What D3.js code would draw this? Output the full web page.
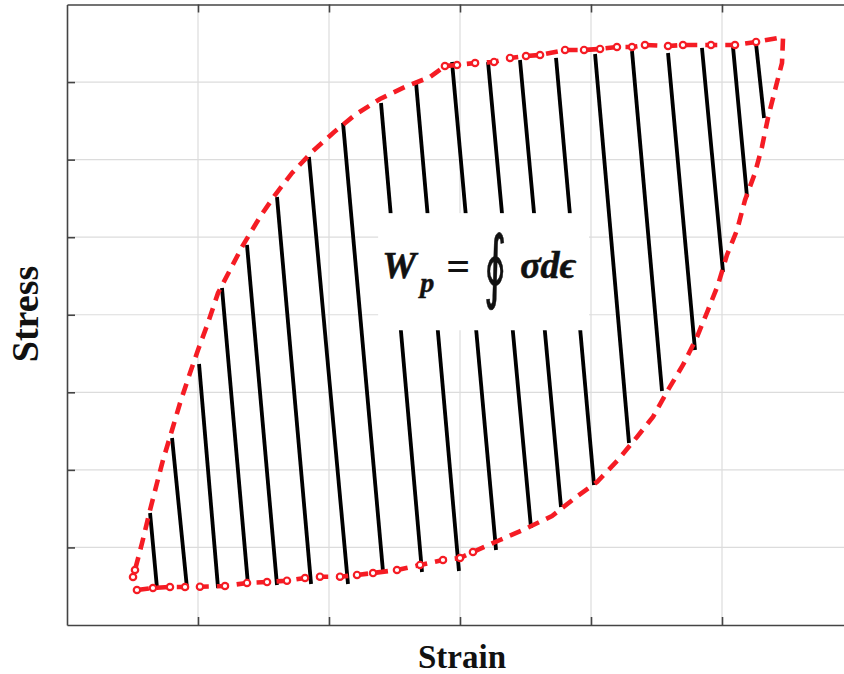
<!DOCTYPE html>
<html>
<head>
<meta charset="utf-8">
<script src="https://cdn.jsdelivr.net/npm/d3@7"></script>
<style>
  html, body { margin: 0; padding: 0; background: #fff; }
  svg { display: block; }
</style>
</head>
<body>
<div id="chart"></div>
<script>
// Hysteresis loop (stress vs. strain); the enclosed area is the dissipated work W_p.

// Loading branch: strain, stress (lower edge of the loop, then rising to the peak)
const loadStrain = [0.534, 0.656, 0.786, 0.901, 1.015, 1.206, 1.374, 1.527, 1.679, 1.817, 1.931, 2.084, 2.214, 2.336, 2.519, 2.695, 2.870, 3.000, 3.099, 3.305, 3.496, 3.702, 3.878, 4.046, 4.206, 4.351, 4.473, 4.588, 4.702, 4.809, 4.893, 4.969, 5.038, 5.115, 5.176, 5.252, 5.305, 5.351, 5.405, 5.458, 5.466];
const loadStress = [0.451, 0.477, 0.490, 0.490, 0.494, 0.503, 0.542, 0.554, 0.571, 0.606, 0.623, 0.623, 0.645, 0.670, 0.709, 0.774, 0.838, 0.864, 0.941, 1.096, 1.238, 1.405, 1.637, 1.844, 2.127, 2.424, 2.682, 3.030, 3.352, 3.713, 4.061, 4.384, 4.771, 5.093, 5.480, 5.828, 6.163, 6.537, 6.898, 7.246, 7.581];

// Unloading branch: from the peak back along the upper edge and down to the start
const unloadStrain = [5.260, 5.099, 4.916, 4.702, 4.588, 4.412, 4.313, 4.198, 4.069, 3.947, 3.802, 3.611, 3.504, 3.382, 3.260, 3.115, 2.977, 2.885, 2.771, 2.580, 2.389, 2.198, 2.031, 1.870, 1.718, 1.588, 1.473, 1.344, 1.153, 1.076, 1.000, 0.939, 0.863, 0.802, 0.733, 0.687, 0.634, 0.573, 0.519, 0.504];
const unloadStress = [7.517, 7.478, 7.478, 7.478, 7.465, 7.478, 7.452, 7.452, 7.427, 7.414, 7.414, 7.349, 7.336, 7.311, 7.259, 7.246, 7.220, 7.207, 7.065, 6.937, 6.782, 6.576, 6.344, 6.099, 5.828, 5.544, 5.261, 4.899, 4.281, 3.894, 3.546, 3.249, 2.862, 2.514, 2.127, 1.831, 1.483, 1.057, 0.709, 0.619];

// Hatching across the enclosed area: upper end and lower end of each stroke
const hatchTopStrain = [0.634, 0.802, 1.008, 1.183, 1.374, 1.603, 1.847, 2.107, 2.397, 2.664, 2.939, 3.214, 3.458, 3.733, 4.031, 4.313, 4.588, 4.847, 5.084, 5.260];
const hatchTopStress = [1.444, 2.411, 3.365, 4.345, 4.900, 5.518, 6.034, 6.473, 6.730, 7.001, 7.259, 7.259, 7.285, 7.311, 7.362, 7.401, 7.375, 7.440, 7.452, 7.491];
const hatchBotStrain = [0.687, 0.916, 1.153, 1.382, 1.603, 1.863, 2.145, 2.412, 2.710, 2.992, 3.275, 3.542, 3.771, 4.023, 4.290, 4.542, 4.794, 5.008, 5.191, 5.321];
const hatchBotStress = [0.477, 0.477, 0.477, 0.516, 0.516, 0.529, 0.529, 0.696, 0.683, 0.696, 0.967, 1.251, 1.521, 1.805, 2.347, 3.017, 3.546, 4.551, 5.518, 6.537];

// Axis ticks (no tick labels are shown)
const strainTicks = [1, 2, 3, 4, 5];
const stressTicks = [1, 2, 3, 4, 5, 6, 7];

const W = 844, H = 674;
const x = d3.scaleLinear().domain([0, 6]).range([67, 853]);
const y = d3.scaleLinear().domain([0, 8]).range([625, 4.5]);

const svg = d3.select("#chart").append("svg")
  .attr("width", W).attr("height", H)
  .attr("viewBox", `0 0 ${W} ${H}`);

const red = "#f51c24";

// Grid
const grid = svg.append("g").attr("class", "grid");
grid.selectAll("line.gx").data(strainTicks).join("line")
  .attr("x1", d => x(d)).attr("x2", d => x(d))
  .attr("y1", y(0)).attr("y2", y(8))
  .attr("stroke", "#dcdcdc").attr("stroke-width", 1.2);
grid.selectAll("line.gy").data(stressTicks).join("line")
  .attr("y1", d => y(d)).attr("y2", d => y(d))
  .attr("x1", x(0)).attr("x2", x(6))
  .attr("stroke", "#dcdcdc").attr("stroke-width", 1.2);

// Hatch strokes
const hatch = d3.range(hatchTopStrain.length).map(i => ({
  x1: hatchTopStrain[i], y1: hatchTopStress[i],
  x2: hatchBotStrain[i], y2: hatchBotStress[i]
}));
svg.append("g").selectAll("line").data(hatch).join("line")
  .attr("x1", d => x(d.x1)).attr("y1", d => y(d.y1))
  .attr("x2", d => x(d.x2)).attr("y2", d => y(d.y2))
  .attr("stroke", "#000").attr("stroke-width", 3.8);

// Formula panel
const box = { x0: 2.375, x1: 3.985, y0: 3.80, y1: 5.31 };
svg.append("rect")
  .attr("x", x(box.x0)).attr("y", y(box.y1))
  .attr("width", x(box.x1) - x(box.x0)).attr("height", y(box.y0) - y(box.y1))
  .attr("fill", "#fff");

const fx = x(box.x0), fy = y(box.y1);
const fmath = svg.append("g").attr("font-family", "'Liberation Serif', 'Times New Roman', serif")
  .attr("font-weight", "bold").attr("fill", "#111");
fmath.append("text").attr("x", fx + 4).attr("y", fy + 65)
  .attr("font-size", 38).attr("font-style", "italic")
  .attr("stroke", "#111").attr("stroke-width", 0.6).text("W");
fmath.append("text").attr("x", fx + 42).attr("y", fy + 79)
  .attr("font-size", 28).attr("font-style", "italic")
  .attr("stroke", "#111").attr("stroke-width", 0.5).text("p");
fmath.append("text").attr("x", fx + 68).attr("y", fy + 67)
  .attr("font-size", 42).attr("font-weight", "bold").text("=");
fmath.append("text")
  .attr("transform", `translate(${fx + 106},${fy + 79.5}) scale(0.72,1.34)`)
  .attr("font-family", "'DejaVu Serif', serif").attr("font-weight", "normal")
  .attr("stroke", "#111").attr("stroke-width", 0.5)
  .attr("font-size", 60).text("\u222E");
fmath.append("text").attr("x", fx + 142).attr("y", fy + 65)
  .attr("font-size", 38).attr("font-style", "italic")
  .attr("stroke", "#111").attr("stroke-width", 0.6).text("\u03C3d\u03F5");

// Loop curve
const loopPts = loadStrain.map((s, i) => [s, loadStress[i]])
  .concat(unloadStrain.map((s, i) => [s, unloadStress[i]]));
const line = d3.line().x(d => x(d[0])).y(d => y(d[1])).curve(d3.curveLinear);
svg.append("path").datum(loopPts)
  .attr("d", line)
  .attr("fill", "none").attr("stroke", red)
  .attr("stroke-width", 4.6).attr("stroke-dasharray", "12 8");

// Small loops where the measured signal is noisy (flat portions of the loop)
const noisy = loopPts.filter(d => (d[1] < 1.0 && d[0] < 3.1) || (d[1] > 7.1 && d[0] < 5.4));
svg.append("g").selectAll("circle").data(noisy).join("circle")
  .attr("cx", d => x(d[0])).attr("cy", d => y(d[1]))
  .attr("r", 3.2).attr("fill", "#fff").attr("stroke", red).attr("stroke-width", 2.2);

// Axes frame with inward ticks
const frame = svg.append("g");
frame.append("g").attr("transform", `translate(0,${y(0)})`)
  .call(d3.axisBottom(x).tickValues(strainTicks).tickSize(-8).tickSizeOuter(0).tickFormat(""));
frame.append("g").attr("transform", `translate(0,${y(8)})`)
  .call(d3.axisTop(x).tickValues(strainTicks).tickSize(-8).tickSizeOuter(0).tickFormat(""));
frame.append("g").attr("transform", `translate(${x(0)},0)`)
  .call(d3.axisLeft(y).tickValues(stressTicks).tickSize(-8).tickSizeOuter(0).tickFormat(""));
frame.append("g").attr("transform", `translate(${x(6)},0)`)
  .call(d3.axisRight(y).tickValues(stressTicks).tickSize(-8).tickSizeOuter(0).tickFormat(""));
frame.selectAll("path.domain").attr("stroke", "#444").attr("stroke-width", 1.6);
frame.selectAll(".tick line").attr("stroke", "#444").attr("stroke-width", 1.6);

// Axis titles
svg.append("text").attr("x", 462).attr("y", 668)
  .attr("text-anchor", "middle")
  .attr("font-family", "'Liberation Serif', 'Times New Roman', serif")
  .attr("font-weight", "bold").attr("font-size", 33).attr("fill", "#111")
  .text("Strain");
svg.append("text").attr("transform", "translate(38,314) rotate(-90)")
  .attr("text-anchor", "middle")
  .attr("font-family", "'Liberation Serif', 'Times New Roman', serif")
  .attr("font-weight", "bold").attr("font-size", 38).attr("fill", "#111")
  .text("Stress");
</script>
</body>
</html>
